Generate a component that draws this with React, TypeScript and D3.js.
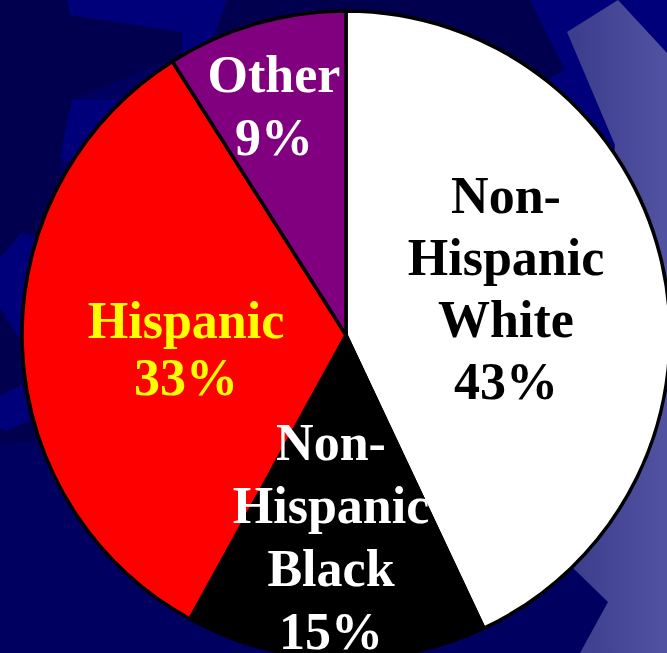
import React from "react";
import * as d3 from "d3";

const categories = ["Non-Hispanic White", "Non-Hispanic Black", "Hispanic", "Other"];
const percents = [43, 15, 33, 9];
const labelLines = [
  ["Non-", "Hispanic", "White", "43%"],
  ["Non-", "Hispanic", "Black", "15%"],
  ["Hispanic", "33%"],
  ["Other", "9%"],
];
const sliceColors = ["#ffffff", "#000000", "#ff0000", "#800080"];
const textColors = ["#000000", "#ffffff", "#ffff00", "#ffffff"];
// label block layout: centre x, first baseline, line step
const labelLayout = [
  { x: 506, y: 213, step: 62 },
  { x: 331, y: 460, step: 63 },
  { x: 186, y: 338, step: 57 },
  { x: 274, y: 92, step: 63 },
];

const W = 667;
const H = 653;
const CX = 346;
const CY = 335;
const R = 324;

const bgDark: [number, number][][] = [
  [[0, 0], [67, 0], [70, 15], [182, 32], [182, 55], [72, 100], [60, 170], [40, 440], [0, 445]],
  [[227, 0], [530, 0], [565, 70], [550, 78], [400, 120], [212, 40]],
];
const bgBright: [number, number][][] = [
  [[67, 0], [227, 0], [212, 40], [200, 62], [182, 55], [182, 32], [70, 15]],
  [[72, 100], [130, 100], [120, 180], [60, 158]],
  [[22, 232], [45, 240], [45, 340], [18, 337], [0, 307], [0, 258]],
  [[0, 395], [22, 385], [30, 420], [6, 431], [0, 428]],
  [[530, 0], [667, 0], [667, 220], [600, 220], [550, 78], [565, 70]],
];
const bgLight: [number, number][] = [
  [567, 32], [618, 0], [667, 53], [667, 653], [580, 653], [608, 602], [573, 568], [600, 300], [615, 145],
];

const pts = (p: [number, number][]) => p.map((q) => q.join(",")).join(" ");

export default function App() {
  const pie = d3
    .pie<number>()
    .sort(null)
    .value((d) => d)
    .startAngle(0)
    .endAngle(2 * Math.PI);
  const arcs = pie(percents);
  const arc = d3.arc<d3.PieArcDatum<number>>().innerRadius(0).outerRadius(R);

  return (
    <svg
      width={W}
      height={H}
      style={{ position: "absolute", left: 0, top: 0, display: "block" }}
      fontFamily="'Liberation Serif', 'Times New Roman', serif"
    >
      <defs>
        <linearGradient id="lightg" x1="560" y1="0" x2="667" y2="0" gradientUnits="userSpaceOnUse">
          <stop offset="0" stopColor="#3a3a8a" />
          <stop offset="1" stopColor="#5252a2" />
        </linearGradient>
      </defs>
      <rect x={0} y={0} width={W} height={H} fill="#000060" />
      {bgDark.map((p, i) => (
        <polygon key={"d" + i} points={pts(p)} fill="#00004e" />
      ))}
      {bgBright.map((p, i) => (
        <polygon key={"b" + i} points={pts(p)} fill="#00007a" />
      ))}
      <polygon points={pts(bgLight)} fill="url(#lightg)" />
      <g transform={`translate(${CX},${CY})`}>
        {arcs.map((a, i) => (
          <path
            key={categories[i]}
            d={arc(a) || ""}
            fill={sliceColors[i]}
            stroke="#000"
            strokeWidth={3.5}
            strokeLinejoin="round"
          />
        ))}
      </g>
      {labelLines.map((lines, i) => (
        <text
          key={"t" + i}
          textAnchor="middle"
          fontWeight="bold"
          fontSize={52}
          fill={textColors[i]}
        >
          {lines.map((ln, j) => (
            <tspan key={j} x={labelLayout[i].x} y={labelLayout[i].y + j * labelLayout[i].step}>
              {ln}
            </tspan>
          ))}
        </text>
      ))}
    </svg>
  );
}
